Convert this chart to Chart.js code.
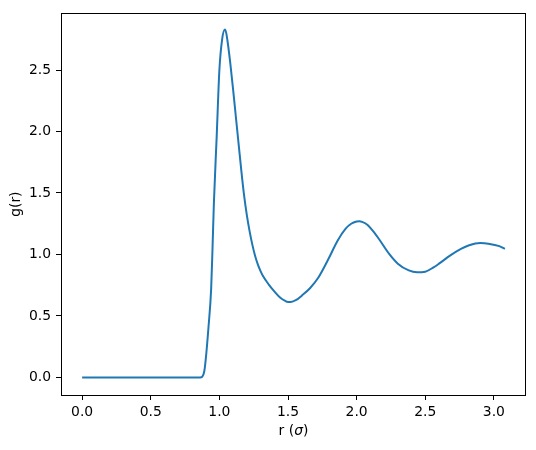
<!DOCTYPE html>
<html>
<head>
<meta charset="utf-8">
<script src="https://cdn.jsdelivr.net/npm/chart.js@4"></script>
<style>
  body { margin: 0; background: #fff; }
</style>
</head>
<body>
<canvas id="grafico" width="536" height="450"></canvas>
<script>
// distancia r (em sigma) e g(r)
const rValores = [0, 0.86, 0.875, 0.89, 0.90, 0.92, 0.94, 0.95, 0.96, 0.98, 1.00, 1.02, 1.04, 1.05, 1.06,
  1.08, 1.10, 1.12, 1.14, 1.16, 1.18, 1.20, 1.22, 1.24, 1.26, 1.28, 1.30, 1.32, 1.36, 1.40, 1.44, 1.48, 1.50,
  1.52, 1.56, 1.60, 1.66, 1.72, 1.80, 1.86, 1.92, 1.96, 2.00, 2.02, 2.04, 2.08, 2.12, 2.16, 2.24, 2.30,
  2.38, 2.44, 2.50, 2.56, 2.60, 2.68, 2.76, 2.82, 2.90, 2.96, 3.04, 3.08];
const gValores = [0, 0, 0.005, 0.05, 0.14, 0.40, 0.72, 1.05, 1.42, 1.95, 2.50, 2.75, 2.83, 2.80, 2.73,
  2.55, 2.34, 2.12, 1.90, 1.68, 1.48, 1.32, 1.19, 1.08, 0.99, 0.92, 0.865, 0.82, 0.755, 0.70, 0.652, 0.622, 0.614,
  0.614, 0.63, 0.665, 0.725, 0.81, 0.975, 1.11, 1.21, 1.25, 1.268, 1.27, 1.265, 1.24, 1.19, 1.13, 1.0, 0.925,
  0.87, 0.855, 0.86, 0.895, 0.925, 0.99, 1.045, 1.075, 1.093, 1.088, 1.068, 1.045];

const ticksX = [0, 0.5, 1.0, 1.5, 2.0, 2.5, 3.0];
const ticksY = [0, 0.5, 1.0, 1.5, 2.0, 2.5];

const fonte = { family: "'DejaVu Sans'", size: 13.9 };

// moldura completa e titulo do eixo x com sigma em italico
const moldura = {
  id: 'moldura',
  afterDraw(chart) {
    const a = chart.chartArea;
    const ctx = chart.ctx;
    ctx.save();
    ctx.strokeStyle = '#000';
    ctx.lineWidth = 1;
    ctx.strokeRect(Math.round(a.left) + 0.5, Math.round(a.top) + 0.5,
      Math.round(a.right - a.left) - 1, Math.round(a.bottom - a.top));

    const normal = "13.9px 'DejaVu Sans'";
    const italico = "italic 13.9px 'DejaVu Sans'";
    const partes = [['r (', normal], ['σ', italico], [')', normal]];
    let total = 0;
    partes.forEach(p => { ctx.font = p[1]; total += ctx.measureText(p[0]).width; });
    let x = (a.left + a.right) / 2 - total / 2;
    ctx.fillStyle = '#000';
    ctx.textBaseline = 'middle';
    ctx.textAlign = 'left';
    partes.forEach(p => {
      ctx.font = p[1];
      ctx.fillText(p[0], x, 431.7);
      x += ctx.measureText(p[0]).width;
    });
    ctx.restore();
  }
};

const pontos = rValores.map((r, i) => ({ x: r, y: gValores[i] }));

new Chart(document.getElementById('grafico'), {
  type: 'line',
  data: {
    datasets: [{
      data: pontos,
      borderColor: '#1f77b4',
      borderWidth: 2,
      pointRadius: 0,
      cubicInterpolationMode: 'monotone',
      fill: false
    }]
  },
  options: {
    responsive: false,
    animation: false,
    layout: { padding: { left: 0, top: 11, right: 10, bottom: 0 } },
    plugins: { legend: { display: false }, tooltip: { enabled: false } },
    scales: {
      x: {
        type: 'linear',
        min: -0.154,
        max: 3.234,
        afterBuildTicks(scale) { scale.ticks = ticksX.map(v => ({ value: v })); },
        afterFit(scale) { scale.height = 55; },
        grid: { display: true, drawOnChartArea: false, drawTicks: true, tickLength: 5, color: '#000' },
        border: { display: false },
        ticks: { color: '#000', font: fonte, padding: 4, maxRotation: 0,
          callback: v => v.toFixed(1) },
        title: { display: false }
      },
      y: {
        type: 'linear',
        min: -0.143,
        max: 2.961,
        afterBuildTicks(scale) { scale.ticks = ticksY.map(v => ({ value: v })); },
        afterFit(scale) { scale.width = 61; },
        grid: { display: true, drawOnChartArea: false, drawTicks: true, tickLength: 5, color: '#000' },
        border: { display: false },
        ticks: { color: '#000', font: fonte, padding: 5,
          callback: v => v.toFixed(1) },
        title: { display: true, text: 'g(r)', color: '#000', font: fonte,
          padding: { top: 7.6, bottom: 0 } }
      }
    }
  },
  plugins: [moldura]
});
</script>
</body>
</html>
